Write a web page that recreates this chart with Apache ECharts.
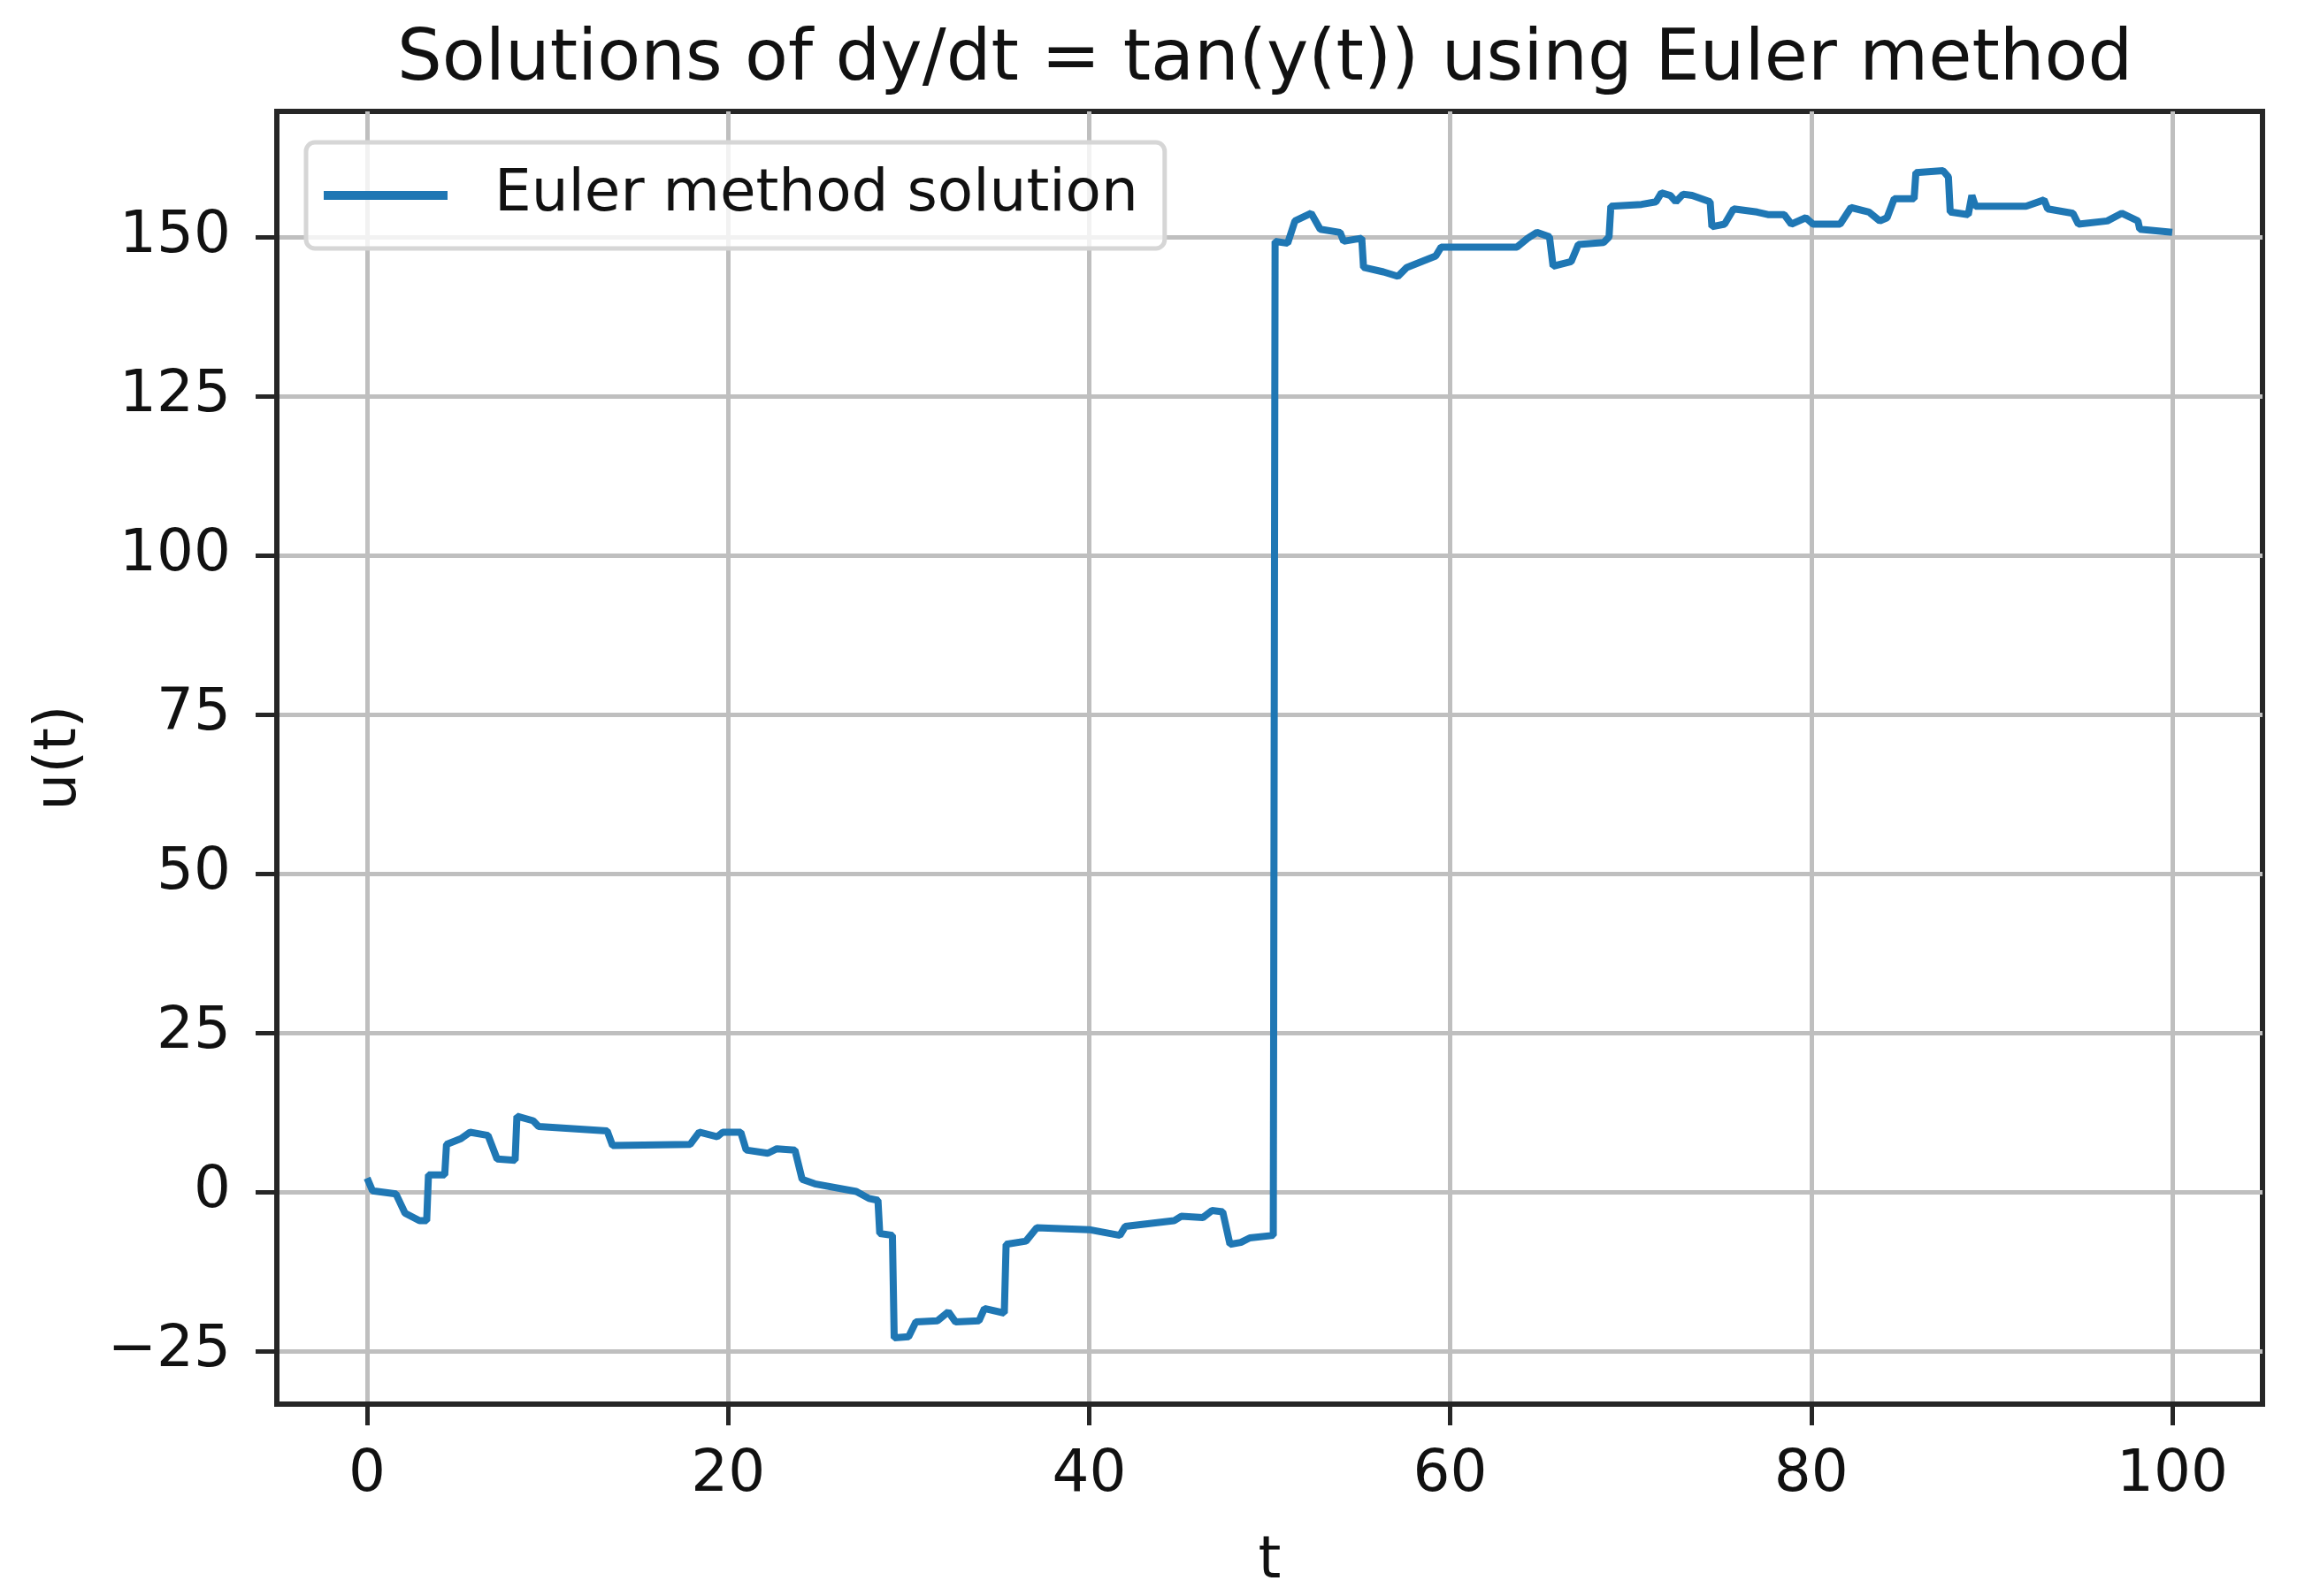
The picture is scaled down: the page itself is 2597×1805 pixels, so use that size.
<!DOCTYPE html>
<html>
<head>
<meta charset="utf-8">
<title>Euler method solution</title>
<script src="https://cdn.jsdelivr.net/npm/echarts@6/dist/echarts.min.js"></script>
<style>
	html, body{margin:0;padding:0;background:#fff;}
	#chart{width:2597px;height:1805px;}
</style>
</head>
<body>
<div id="chart"></div>
<script type="text/javascript">
// values (t, u) -- vertical jumps kept as two points
var tValues = [0, 0.3, 1.6, 2.1, 2.9, 3.3, 3.4, 4.3, 4.4, 5.2, 5.7, 6.7, 7.2, 8.2, 8.3, 9.2, 9.5,
	13.3, 13.6, 17.9, 18.4, 19.4, 19.7, 20.7, 21.0, 22.2, 22.7, 23.7, 24.1, 24.8, 27.1, 27.8, 28.3,
	28.4, 29.1, 29.2, 30.0, 30.4, 31.6, 32.2, 32.6, 33.9, 34.2, 35.3, 35.4, 36.5, 37.1, 40.0, 41.7,
	42.0, 44.7, 45.1, 46.3, 46.8, 47.4, 47.8, 48.4, 48.9, 50.2, 50.3, 51.0, 51.4, 52.3, 52.8, 53.9,
	54.1, 55.1, 55.2, 56.3, 57.1, 57.6, 59.2, 59.5, 63.7, 64.3, 64.8, 65.5, 65.7, 66.7, 67.1, 68.5,
	68.8, 68.9, 70.6, 71.4, 71.7, 72.2, 72.5, 72.9, 73.4, 74.4, 74.5, 75.2, 75.7, 77.0, 77.6, 78.5,
	78.9, 79.7, 80.1, 81.6, 82.2, 83.2, 83.8, 84.2, 84.6, 85.7, 85.8, 87.3, 87.6, 87.7, 88.7, 88.9,
	89.1, 91.9, 92.9, 93.1, 94.5, 94.8, 96.4, 97.2, 98.1, 98.2, 100.0];
var uValues = [2.2, 0.2, -0.3, -3.3, -4.5, -4.5, 2.7, 2.7, 7.5, 8.4, 9.4, 8.9, 5.2, 5.0, 11.9, 11.2, 10.3,
	9.6, 7.3, 7.5, 9.4, 8.7, 9.4, 9.4, 6.6, 6.1, 6.8, 6.6, 2.0, 1.3, 0.1, -1.0, -1.3,
	-6.5, -6.8, -22.9, -22.7, -20.4, -20.2, -18.8, -20.4, -20.2, -18.3, -19.0, -8.2, -7.7, -5.6, -5.9, -6.8,
	-5.4, -4.5, -3.8, -4.0, -2.9, -3.1, -8.2, -7.9, -7.2, -6.8, 149.3, 149.0, 152.5, 153.7, 151.2, 150.7,
	149.3, 149.8, 145.2, 144.5, 143.8, 145.2, 147.0, 148.4, 148.4, 149.8, 150.7, 150.0, 145.4, 146.1, 148.8, 149.1,
	150.0, 154.8, 155.1, 155.5, 156.9, 156.5, 155.5, 156.7, 156.5, 155.5, 151.6, 152.0, 154.4, 153.9, 153.5, 153.5,
	152.0, 153.0, 152.0, 152.0, 154.6, 153.9, 152.5, 153.0, 156.0, 156.0, 160.1, 160.4, 159.4, 153.9, 153.5, 156.5,
	154.8, 154.8, 155.8, 154.4, 153.7, 152.0, 152.5, 153.7, 152.5, 151.2, 150.7];

var xTicks = [0, 20, 40, 60, 80, 100];
var yTicks = [-25, 0, 25, 50, 75, 100, 125, 150];

var seriesName = 'Euler method solution';
var chartTitle = 'Solutions of dy/dt = tan(y(t)) using Euler method';

var FONT = 'DejaVu Sans';

var points = [];
for (var i = 0; i < tValues.length; i++) {
	points.push([tValues[i], uValues[i]]);
}

function minusSign(v) {
	return String(v).replace('-', '\u2212');
}

var chart = echarts.init(document.getElementById('chart'));

var option = {
	animation: false,
	backgroundColor: '#ffffff',
	title: {
		text: chartTitle,
		left: 444,
		top: 24,
		textStyle: {fontFamily: FONT, fontSize: 80, fontWeight: 'normal', color: '#111'}
	},
	legend: {
		left: 346,
		top: 161,
		data: [seriesName],
		icon: 'rect',
		itemWidth: 140,
		itemHeight: 10,
		padding: [27, 30, 27, 20],
		borderColor: '#d6d6d6',
		borderWidth: 5,
		borderRadius: 10,
		backgroundColor: 'rgba(255,255,255,0.8)',
		textStyle: {fontFamily: FONT, fontSize: 66, color: '#111', padding: [0, 0, 0, 48]}
	},
	grid: {
		left: 313,
		top: 126,
		right: 39,
		bottom: 217,
		show: true,
		borderColor: '#262626',
		borderWidth: 6
	},
	xAxis: {
		type: 'value',
		min: -5,
		max: 105,
		name: 't',
		nameLocation: 'middle',
		nameGap: 146,
		nameTextStyle: {fontFamily: FONT, fontSize: 66, color: '#111'},
		axisLine: {show: true, onZero: false, lineStyle: {color: '#262626', width: 6}},
		axisTick: {show: true, inside: false, length: 24, customValues: xTicks, lineStyle: {color: '#262626', width: 5}},
		axisLabel: {show: true, margin: 48, customValues: xTicks, fontFamily: FONT, fontSize: 66, color: '#111', formatter: minusSign},
		splitLine: {show: true, lineStyle: {color: '#bfbfbf', width: 5}}
	},
	yAxis: {
		type: 'value',
		min: -33.3,
		max: 169.7,
		name: 'u(t)',
		nameLocation: 'middle',
		nameRotate: 90,
		nameGap: 212,
		nameTextStyle: {fontFamily: FONT, fontSize: 66, color: '#111'},
		axisLine: {show: true, onZero: false, lineStyle: {color: '#262626', width: 6}},
		axisTick: {show: true, inside: false, length: 24, customValues: yTicks, lineStyle: {color: '#262626', width: 5}},
		axisLabel: {show: true, margin: 52, customValues: yTicks, fontFamily: FONT, fontSize: 66, color: '#111', formatter: minusSign},
		splitLine: {show: true, lineStyle: {color: '#bfbfbf', width: 5}}
	},
	series: [
		{
			name: seriesName,
			type: 'line',
			data: points,
			showSymbol: false,
			symbol: 'none',
			color: '#1f77b4',
			lineStyle: {color: '#1f77b4', width: 8},
			z: 3
		}
	]
};

chart.setOption(option);
</script>
</body>
</html>
